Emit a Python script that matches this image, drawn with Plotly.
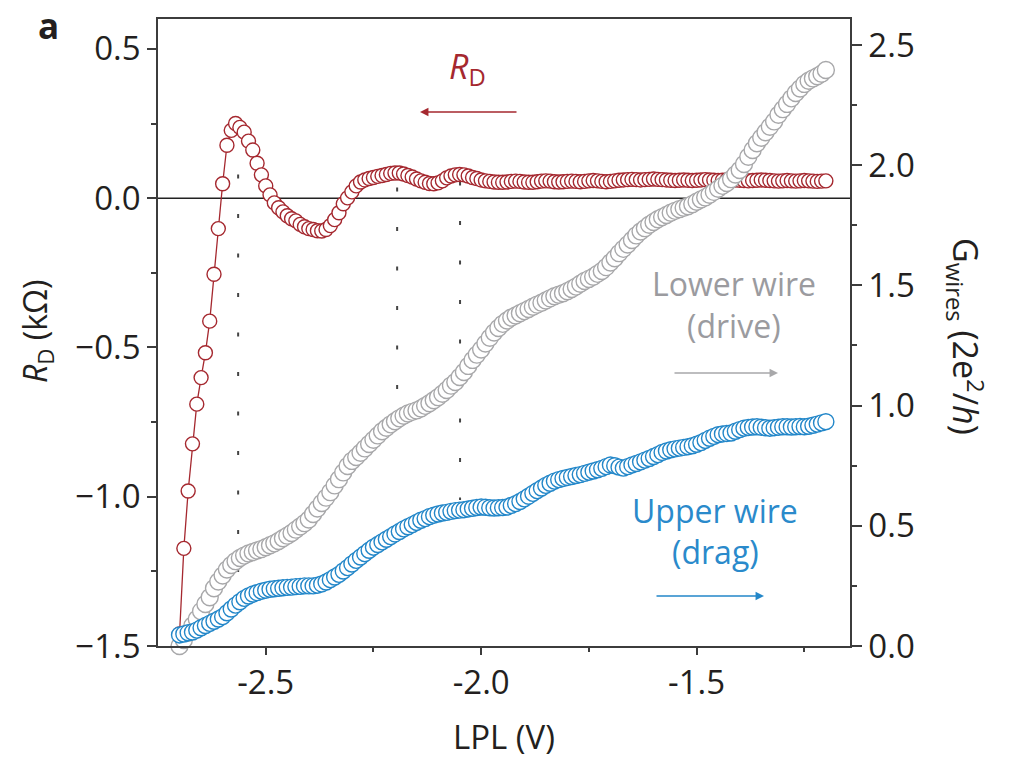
import plotly.graph_objects as go

# ---------------- data ----------------
lpl = [
    -2.70, -2.69, -2.68, -2.67, -2.66, -2.65, -2.64, -2.63, -2.62, -2.61,
    -2.60, -2.59, -2.58, -2.57, -2.56, -2.55, -2.54, -2.53, -2.52, -2.51,
    -2.50, -2.49, -2.48, -2.47, -2.46, -2.45, -2.44, -2.43, -2.42, -2.41,
    -2.40, -2.39, -2.38, -2.37, -2.36, -2.35, -2.34, -2.33, -2.32, -2.31,
    -2.30, -2.29, -2.28, -2.27, -2.26, -2.25, -2.24, -2.23, -2.22, -2.21,
    -2.20, -2.19, -2.18, -2.17, -2.16, -2.15, -2.14, -2.13, -2.12, -2.11,
    -2.10, -2.09, -2.08, -2.07, -2.06, -2.05, -2.04, -2.03, -2.02, -2.01,
    -2.00, -1.99, -1.98, -1.97, -1.96, -1.95, -1.94, -1.93, -1.92, -1.91,
    -1.90, -1.89, -1.88, -1.87, -1.86, -1.85, -1.84, -1.83, -1.82, -1.81,
    -1.80, -1.79, -1.78, -1.77, -1.76, -1.75, -1.74, -1.73, -1.72, -1.71,
    -1.70, -1.69, -1.68, -1.67, -1.66, -1.65, -1.64, -1.63, -1.62, -1.61,
    -1.60, -1.59, -1.58, -1.57, -1.56, -1.55, -1.54, -1.53, -1.52, -1.51,
    -1.50, -1.49, -1.48, -1.47, -1.46, -1.45, -1.44, -1.43, -1.42, -1.41,
    -1.40, -1.39, -1.38, -1.37, -1.36, -1.35, -1.34, -1.33, -1.32, -1.31,
    -1.30, -1.29, -1.28, -1.27, -1.26, -1.25, -1.24, -1.23, -1.22, -1.21,
    -1.20,
]

# drag resistance R_D (kOhm), left axis
r_drag = [
    -1.460, -1.173, -0.981, -0.823, -0.690, -0.601, -0.518, -0.412, -0.255, -0.102,
    0.048, 0.177, 0.227, 0.250, 0.237, 0.221, 0.191, 0.161, 0.117, 0.078,
    0.041, 0.011, -0.016, -0.032, -0.046, -0.059, -0.069, -0.076, -0.088, -0.096,
    -0.102, -0.105, -0.109, -0.110, -0.105, -0.092, -0.072, -0.049, -0.019, 0.001,
    0.021, 0.041, 0.054, 0.061, 0.066, 0.069, 0.073, 0.076, 0.079, 0.083,
    0.084, 0.084, 0.081, 0.076, 0.071, 0.064, 0.058, 0.053, 0.049, 0.048,
    0.051, 0.058, 0.068, 0.074, 0.078, 0.079, 0.078, 0.074, 0.069, 0.066,
    0.061, 0.058, 0.056, 0.054, 0.053, 0.053, 0.054, 0.056, 0.057, 0.056,
    0.054, 0.053, 0.053, 0.055, 0.057, 0.058, 0.057, 0.055, 0.054, 0.055,
    0.056, 0.057, 0.056, 0.055, 0.056, 0.058, 0.059, 0.058, 0.056, 0.055,
    0.056, 0.058, 0.060, 0.061, 0.062, 0.063, 0.062, 0.061, 0.062, 0.063,
    0.064, 0.063, 0.062, 0.061, 0.060, 0.059, 0.060, 0.061, 0.060, 0.059,
    0.060, 0.061, 0.062, 0.061, 0.060, 0.059, 0.060, 0.061, 0.062, 0.061,
    0.060, 0.059, 0.058, 0.059, 0.060, 0.061, 0.060, 0.059, 0.058, 0.057,
    0.058, 0.059, 0.058, 0.057, 0.058, 0.059, 0.058, 0.057, 0.056, 0.057,
    0.058,
]

# lower wire (drive) conductance, right axis (2e^2/h)
g_lower = [
    0.000, 0.025, 0.055, 0.085, 0.112, 0.145, 0.175, 0.203, 0.240, 0.268,
    0.293, 0.318, 0.337, 0.353, 0.366, 0.376, 0.385, 0.391, 0.397, 0.403,
    0.411, 0.419, 0.427, 0.437, 0.448, 0.459, 0.470, 0.484, 0.497, 0.511,
    0.526, 0.549, 0.572, 0.595, 0.617, 0.640, 0.668, 0.694, 0.722, 0.749,
    0.770, 0.786, 0.804, 0.822, 0.840, 0.858, 0.876, 0.893, 0.908, 0.922,
    0.935, 0.947, 0.958, 0.967, 0.974, 0.980, 0.988, 0.999, 1.010, 1.022,
    1.035, 1.049, 1.065, 1.083, 1.098, 1.119, 1.140, 1.165, 1.190, 1.212,
    1.233, 1.258, 1.282, 1.304, 1.323, 1.340, 1.354, 1.366, 1.375, 1.384,
    1.393, 1.402, 1.411, 1.420, 1.428, 1.437, 1.446, 1.455, 1.461, 1.467,
    1.476, 1.485, 1.495, 1.507, 1.518, 1.527, 1.536, 1.548, 1.560, 1.576,
    1.595, 1.613, 1.634, 1.652, 1.670, 1.689, 1.708, 1.724, 1.738, 1.752,
    1.764, 1.775, 1.784, 1.793, 1.802, 1.810, 1.817, 1.823, 1.829, 1.838,
    1.848, 1.857, 1.866, 1.877, 1.889, 1.902, 1.914, 1.926, 1.942, 1.961,
    1.980, 2.005, 2.035, 2.063, 2.091, 2.114, 2.137, 2.160, 2.182, 2.210,
    2.233, 2.255, 2.278, 2.300, 2.319, 2.338, 2.351, 2.361, 2.370, 2.380,
    2.396,
]

# upper wire (drag) conductance, right axis (2e^2/h)
g_upper = [
    0.046, 0.050, 0.055, 0.058, 0.066, 0.076, 0.085, 0.094, 0.103, 0.112,
    0.122, 0.138, 0.154, 0.170, 0.184, 0.198, 0.208, 0.216, 0.222, 0.228,
    0.232, 0.236, 0.238, 0.240, 0.242, 0.244, 0.245, 0.247, 0.248, 0.250,
    0.250, 0.250, 0.253, 0.258, 0.266, 0.276, 0.287, 0.298, 0.312, 0.326,
    0.341, 0.356, 0.370, 0.384, 0.398, 0.411, 0.422, 0.433, 0.444, 0.455,
    0.466, 0.476, 0.487, 0.496, 0.505, 0.514, 0.523, 0.530, 0.538, 0.544,
    0.549, 0.553, 0.556, 0.560, 0.563, 0.565, 0.567, 0.570, 0.573, 0.576,
    0.578, 0.577, 0.575, 0.574, 0.575, 0.576, 0.578, 0.585, 0.592, 0.601,
    0.612, 0.623, 0.635, 0.646, 0.657, 0.668, 0.677, 0.686, 0.692, 0.697,
    0.701, 0.705, 0.709, 0.713, 0.718, 0.723, 0.728, 0.733, 0.739, 0.746,
    0.753, 0.750, 0.744, 0.740, 0.746, 0.753, 0.759, 0.766, 0.773, 0.780,
    0.788, 0.796, 0.805, 0.811, 0.816, 0.820, 0.823, 0.826, 0.829, 0.833,
    0.839, 0.846, 0.855, 0.864, 0.872, 0.879, 0.882, 0.884, 0.886, 0.893,
    0.900, 0.906, 0.909, 0.911, 0.912, 0.910, 0.908, 0.906, 0.908, 0.910,
    0.912, 0.912, 0.911, 0.912, 0.913, 0.912, 0.914, 0.918, 0.923, 0.928,
    0.933,
]

# dotted guide lines: LPL position, top and bottom (in 2e^2/h units)
guide_x = [-2.564, -2.195, -2.049]
guide_top = [1.961, 1.907, 1.932]
guide_bottom = [0.308, 0.898, 0.607]

x_ticks = [-2.5, -2.0, -1.5]
x_ticklabels = ["-2.5", "-2.0", "-1.5"]
x_minor = [-2.25, -1.75, -1.25]
y_ticks = [-1.5, -1.0, -0.5, 0.0, 0.5]
y_ticklabels = ["\u22121.5", "\u22121.0", "\u22120.5", "0.0", "0.5"]
y_minor = [-1.25, -0.75, -0.25, 0.25]
y2_ticks = [0.0, 0.5, 1.0, 1.5, 2.0, 2.5]
y2_ticklabels = ["0.0", "0.5", "1.0", "1.5", "2.0", "2.5"]
y2_minor = [0.25, 0.75, 1.25, 1.75, 2.25]

# ---------------- styling ----------------
FONT = "Open Sans"
TXT = "#231f20"
AX = "#3c3c3c"
RED = "#a5282f"
GRAY = "#a8a8aa"
GRAY_TXT = "#9b9b9f"
BLUE = "#2387c9"
BLUE_TXT = "#2a8acb"

L, R, T, B = 158, 850, 19, 646
W, H = 1011, 761


def px(xp):
    return (xp - L) / (R - L)


def py(yp):
    return (B - yp) / (B - T)


fig = go.Figure()

fig.add_trace(go.Scatter(
    x=lpl, y=r_drag, mode="lines+markers", yaxis="y",
    line=dict(color=RED, width=1.3),
    marker=dict(symbol="circle", size=14, color="white",
                line=dict(color=RED, width=1.4)),
    showlegend=False, cliponaxis=False, hoverinfo="skip"))

fig.add_trace(go.Scatter(
    x=lpl, y=g_lower, mode="markers", yaxis="y2",
    marker=dict(symbol="circle", size=17, color="white",
                line=dict(color=GRAY, width=1.4)),
    showlegend=False, cliponaxis=False, hoverinfo="skip"))

fig.add_trace(go.Scatter(
    x=lpl, y=g_upper, mode="markers", yaxis="y2",
    marker=dict(symbol="circle", size=16, color="white",
                line=dict(color=BLUE, width=1.4)),
    showlegend=False, cliponaxis=False, hoverinfo="skip"))

shapes = [dict(type="line", xref="paper", x0=0, x1=1, yref="y", y0=0, y1=0,
               line=dict(color="#222222", width=1.5), layer="below")]
for gx, gt, gb in zip(guide_x, guide_top, guide_bottom):
    shapes.append(dict(type="line", xref="x", x0=gx, x1=gx, yref="y2", y0=gt, y1=gb,
                       line=dict(color="#444444", width=2, dash="4px,35.5px"),
                       layer="below"))

axis_common = dict(showline=True, linecolor=AX, linewidth=1.5, ticks="outside",
                   tickwidth=1.5, tickcolor=AX, showgrid=False, zeroline=False,
                   tickfont=dict(family=FONT, size=33, color=TXT))

fig.update_layout(
    width=W, height=H,
    margin=dict(l=L, r=W - R, t=T, b=H - B, pad=0),
    paper_bgcolor="white", plot_bgcolor="white", showlegend=False,
    font=dict(family=FONT, size=31, color=TXT),
    xaxis=dict(range=[-2.75, -1.144], mirror=True, ticklen=7,
               tickmode="array", tickvals=x_ticks, ticktext=x_ticklabels,
               minor=dict(tickmode="array", tickvals=x_minor, ticks="outside",
                          ticklen=4, tickwidth=1.5, tickcolor=AX, showgrid=False),
               **axis_common),
    yaxis=dict(range=[-1.5, 0.6], ticklen=9,
               tickmode="array", tickvals=y_ticks, ticktext=y_ticklabels,
               minor=dict(tickmode="array", tickvals=y_minor, ticks="outside",
                          ticklen=5, tickwidth=1.5, tickcolor=AX, showgrid=False),
               **axis_common),
    yaxis2=dict(range=[0, 2.608], overlaying="y", side="right", ticklen=10,
                tickmode="array", tickvals=y2_ticks, ticktext=y2_ticklabels,
                minor=dict(tickmode="array", tickvals=y2_minor, ticks="outside",
                           ticklen=5, tickwidth=1.5, tickcolor=AX, showgrid=False),
                **axis_common),
    shapes=shapes,
)

ann = []
# panel letter
ann.append(dict(text="<b>a</b>", x=px(48), y=py(26), xref="paper", yref="paper",
                showarrow=False, font=dict(family=FONT, size=35, color=TXT),
                xanchor="center", yanchor="middle"))
# axis titles
ann.append(dict(text="LPL (V)", x=px(504), y=py(737), xref="paper", yref="paper",
                showarrow=False, font=dict(family=FONT, size=33, color=TXT),
                xanchor="center", yanchor="middle"))
ann.append(dict(text="<i>R</i><sub>D</sub> (k\u03a9)", x=px(37), y=py(331),
                xref="paper", yref="paper", textangle=-90, showarrow=False,
                font=dict(family=FONT, size=32, color=TXT),
                xanchor="center", yanchor="middle"))
ann.append(dict(text="G<sub>wires</sub> (2e<sup>2</sup>/<i>h</i>)", x=px(965), y=py(336),
                xref="paper", yref="paper", textangle=90, showarrow=False,
                font=dict(family=FONT, size=34, color=TXT),
                xanchor="center", yanchor="middle"))
# series labels
ann.append(dict(text="<i>R</i><sub>D</sub>", x=px(467), y=py(68), xref="paper", yref="paper",
                showarrow=False, font=dict(family=FONT, size=34, color=RED),
                xanchor="center", yanchor="middle"))
ann.append(dict(text="Lower wire", x=px(734), y=py(283), xref="paper", yref="paper",
                showarrow=False, font=dict(family=FONT, size=32, color=GRAY_TXT),
                xanchor="center", yanchor="middle"))
ann.append(dict(text="(drive)", x=px(734), y=py(325), xref="paper", yref="paper",
                showarrow=False, font=dict(family=FONT, size=32, color=GRAY_TXT),
                xanchor="center", yanchor="middle"))
ann.append(dict(text="Upper wire", x=px(715), y=py(510), xref="paper", yref="paper",
                showarrow=False, font=dict(family=FONT, size=32, color=BLUE_TXT),
                xanchor="center", yanchor="middle"))
ann.append(dict(text="(drag)", x=px(715), y=py(551), xref="paper", yref="paper",
                showarrow=False, font=dict(family=FONT, size=32, color=BLUE_TXT),
                xanchor="center", yanchor="middle"))
# arrows
for x_head, x_tail, yp, col in [(420, 518, 112, RED), (778, 673, 373, GRAY), (764, 655, 596, BLUE)]:
    ann.append(dict(text="", x=px(x_head), y=py(yp), xref="paper", yref="paper",
                    ax=x_tail - x_head, ay=0, axref="pixel", ayref="pixel",
                    showarrow=True, arrowhead=2, arrowsize=1.3, arrowwidth=1.3,
                    arrowcolor=col, standoff=0))

fig.update_layout(annotations=ann)

fig.write_html("out.html")
